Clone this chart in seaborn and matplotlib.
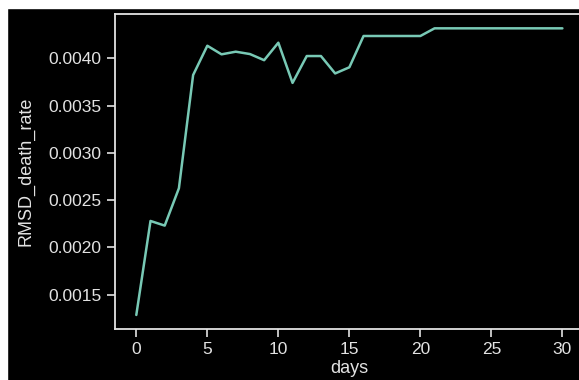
import matplotlib
matplotlib.use("Agg")
import matplotlib.pyplot as plt
from matplotlib.patches import Rectangle
import seaborn as sns
import pandas as pd

days = list(range(31))
rmsd_death_rate = [
    0.001286, 0.002280, 0.002231, 0.002626, 0.003823, 0.004133, 0.004042,
    0.004070, 0.004045, 0.003980, 0.004165, 0.003740, 0.004024, 0.004024,
    0.003840, 0.003905, 0.004236, 0.004236, 0.004236, 0.004236, 0.004236,
    0.004317, 0.004317, 0.004317, 0.004317, 0.004317, 0.004317, 0.004317,
    0.004317, 0.004317, 0.004317,
]
df = pd.DataFrame({"days": days, "RMSD_death_rate": rmsd_death_rate})

sns.set_theme(style="ticks")
fg = "#e2e2e2"
plt.rcParams.update({
    "font.family": ["Liberation Sans", "DejaVu Sans"],
    "axes.facecolor": "black",
    "figure.facecolor": "black",
    "axes.edgecolor": fg,
    "axes.labelcolor": fg,
    "xtick.color": fg,
    "ytick.color": fg,
    "text.color": fg,
})

fig = plt.figure(figsize=(5.79, 3.80), dpi=100)
ax = fig.add_axes([115 / 579, 1 - 329.3 / 380, 468.7 / 579, 315.3 / 380])

sns.lineplot(data=df, x="days", y="RMSD_death_rate", ax=ax,
             color="#78c9b5", linewidth=1.8)

ax.set_xticks([0, 5, 10, 15, 20, 25, 30])
ax.set_yticks([0.0015, 0.0020, 0.0025, 0.0030, 0.0035, 0.0040])
ax.set_yticklabels([f"{v:.4f}" for v in ax.get_yticks()])
ax.tick_params(labelsize=12.5, length=6, width=1.2, pad=3.5)
ax.set_xlabel("days", fontsize=13, labelpad=1.5)
ax.set_ylabel("RMSD_death_rate", fontsize=13, labelpad=10)
for s in ax.spines.values():
    s.set_linewidth(1.3)
    s.set_color(fg)

# light frame along the top and left edges
fig.patches.append(Rectangle((0, 1 - 7.5 / 380), 1, 7.5 / 380,
                             transform=fig.transFigure, color="white", zorder=10))
fig.patches.append(Rectangle((0, 0), 7.5 / 579, 1,
                             transform=fig.transFigure, color="white", zorder=10))

fig.savefig("out.png", dpi=100, facecolor="black")
